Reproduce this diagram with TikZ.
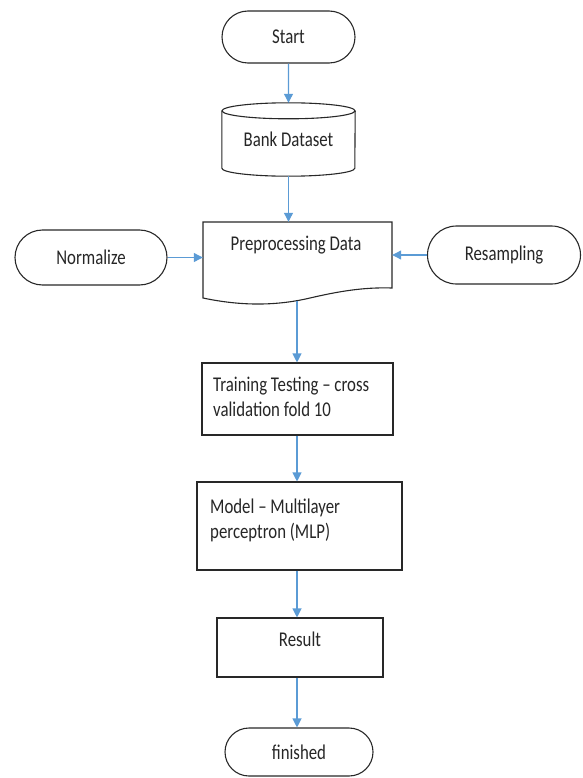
\documentclass[tikz,border=0pt]{standalone}
\usepackage{fontspec}
\setmainfont{Carlito}[FakeStretch=0.8]
\usetikzlibrary{arrows.meta,shapes.misc}
\definecolor{flowblue}{RGB}{91,155,213}
\definecolor{edgegray}{RGB}{40,40,40}
\begin{document}
\begin{tikzpicture}[x=1pt,y=-1pt,
  every node/.style={font=\fontsize{21}{25}\selectfont, inner sep=0pt, text=black!85},
  term/.style={draw=edgegray, line width=1.1pt, rounded rectangle},
  box/.style={draw=edgegray, line width=1.1pt, rectangle},
  outline/.style={draw=edgegray, line width=1.1pt},
  flow/.style={draw=flowblue, line width=1.1pt, -{Triangle[length=9pt,width=9pt]}}]
\useasboundingbox (0,0) rectangle (582,778);

% nodes
\node[term, minimum width=133pt, minimum height=52pt] (start) at (288.5,37) {Start};
\node[minimum width=133pt, minimum height=73pt] (bank) at (288.5,139.5) {Bank Dataset};
\draw[outline] ([yshift=-8pt]bank.north) ellipse [x radius=66.5pt, y radius=8pt];
\draw[outline] ([yshift=-8pt]bank.north west) -- ([yshift=8pt]bank.south west)
  arc[start angle=180, end angle=360, x radius=66.5pt, y radius=8pt]
  -- ([yshift=-8pt]bank.north east);

\node[minimum width=189pt, minimum height=76pt] (prep) at (297.5,260) {};
\draw[outline] (203,298) -- (203,222) -- (392,222) -- (392,288)
  .. controls (362,287) and (336,292) .. (310,298)
  .. controls (272,307) and (236,305) .. (203,298) -- cycle;
\node (preptxt) at (296,245) {Preprocessing Data};

\node[term, minimum width=152pt, minimum height=55pt] (normalize) at (91,257.5) {Normalize};
\node[term, minimum width=153pt, minimum height=58pt] (resampling) at (504,255) {Resampling};

\node[box, minimum width=191pt, minimum height=72pt] (training) at (297.5,399) {};
\node[anchor=west, align=left] (trainingtxt) at (213,397) {Training Testing – cross\\validation fold 10};

\node[box, minimum width=205pt, minimum height=88pt] (model) at (299.5,526) {};
\node[anchor=west, align=left] (modeltxt) at (210,520) {Model – Multilayer\\perceptron (MLP)};

\node[box, minimum width=166pt, minimum height=59pt] (result) at (300,647.5) {};
\node (resulttxt) at (300,639) {Result};

\node[term, minimum width=148pt, minimum height=48pt] (finished) at (299,752) {finished};

% connectors
\coordinate (prepout) at (297,301);
\draw[flow] (start) -- (bank);
\draw[flow] (bank.south) -- (bank.south |- prep.north);
\draw[flow] (normalize.east) -- (prep.west |- normalize.east);
\draw[flow] (resampling.west) -- (prep.east |- resampling.west);
\draw[flow] (prepout) -- (prepout |- training.north);
\draw[flow] (prepout |- training.south) -- (prepout |- model.north);
\draw[flow] (prepout |- model.south) -- (prepout |- result.north);
\draw[flow] (prepout |- result.south) -- (prepout |- finished.north);
\end{tikzpicture}
\end{document}
